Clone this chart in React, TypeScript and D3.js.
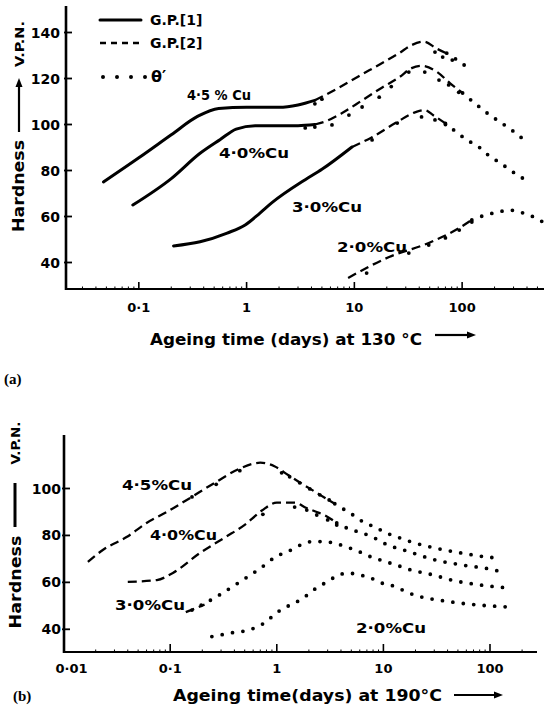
import React from 'react';
import * as d3 from 'd3';

type P = [number, number];

// ---------- (a) ageing at 130 °C ----------
const a45Solid: P[] = [[0.047, 75], [0.1, 85.5], [0.2, 95.5], [0.35, 103.5], [0.55, 107], [1, 107.5], [2, 107.5], [3, 108.5], [4.3, 110.5]];
const a45Dashed: P[] = [[4.3, 110.5], [7.2, 116], [11, 121], [17, 126], [26, 131], [34, 134.5], [44, 136], [58, 133], [75, 130.5]];
const a45Dotted: P[] = [[72, 131], [90, 128], [107, 125.5]];
const a45Marks: P[] = [[4.3, 109], [5, 111], [56, 131.5], [66, 129.3], [81, 128]];

const a40Solid: P[] = [[0.088, 65], [0.2, 76.5], [0.37, 87.5], [0.57, 93.5], [0.8, 98], [1.2, 99.5], [2, 99.5], [3, 99.5], [4.3, 100]];
const a40Dashed: P[] = [[4.3, 100], [5.5, 101.5], [7.7, 105], [11.8, 110.5], [18, 116], [26, 120.5], [34, 124.5], [42, 125.5], [58, 123], [77, 118], [101, 113.7]];
const a40Dotted: P[] = [[101, 113.7], [137, 108.5], [182, 104], [226, 101], [290, 97.5], [361, 94]];
const a40Marks: P[] = [[3.5, 98.5], [4.3, 98.9], [6.2, 99.8], [8.9, 104.1], [11.8, 107.6], [17, 111.9], [22, 116.5], [32, 122.8], [45, 122.8], [61, 119.3], [75, 117.2], [93, 114]];

const a30Solid: P[] = [[0.21, 47.2], [0.37, 49], [0.66, 52.8], [0.97, 56.3], [1.33, 61.5], [1.72, 66], [3.5, 76], [5, 80.5], [9.5, 90.2]];
const a30Dashed: P[] = [[9.5, 90.2], [14.6, 94.5], [24, 100.6], [37, 105.4], [45, 106.3], [54, 104], [70, 100.5]];
const a30Dotted: P[] = [[70, 100.5], [111, 93.3], [147, 89.8], [182, 86], [226, 83.3], [278, 80.2], [385, 76]];
const a30Marks: P[] = [[14.6, 93.3], [25, 100.6], [42, 103.3], [56, 102], [70, 100]];

const a20Dashed: P[] = [[8.75, 33.3], [21, 42.4], [49, 48.5], [94, 55], [123, 58.5]];
const a20Dotted: P[] = [[123, 58.5], [164, 60.6], [220, 62], [271, 62.8], [338, 62], [420, 60.6], [520, 58.5], [620, 56.3]];
const a20Marks: P[] = [[13, 35.4], [32, 44.1], [49, 47.6], [70, 50.7], [94, 54.1], [123, 57.6]];

const aYTicks = [40, 60, 80, 100, 120, 140];
const aXTicks = [0.1, 1, 10, 100];
const aXTickLabels = ['0·1', '1', '10', '100'];

// ---------- (b) ageing at 190 °C ----------
const b45Dashed: P[] = [[0.0169, 68.7], [0.0235, 73.9], [0.039, 79.3], [0.06, 85.3], [0.093, 90], [0.143, 95.1], [0.27, 102.8], [0.45, 108.5], [0.7, 111], [0.95, 109.5], [1.3, 105.5], [1.8, 101.5], [2.5, 97.5], [3.5, 93.5]];
const b45Dotted: P[] = [[3.5, 93.5], [4.06, 91.7], [5.2, 88.7], [6.5, 85.7], [8.3, 83.6], [10.7, 81], [13.6, 79.3], [18.4, 77.2], [30, 74.7], [54, 72.5], [93, 70.8], [118, 70.4]];
const b45Marks: P[] = [[0.16, 96.4], [0.27, 101.8], [0.45, 107.6], [1.11, 106.7], [1.32, 105], [1.64, 102.4], [2.04, 99.8], [2.53, 97.3], [3.1, 95.1]];

const b40Dashed: P[] = [[0.04, 60.2], [0.075, 61], [0.106, 64], [0.19, 72.5], [0.33, 79.3], [0.5, 84.5], [0.72, 90.5], [1.0, 94], [1.47, 94], [1.9, 91.7], [2.37, 90], [3.0, 87.9], [3.65, 85.3]];
const b40Dotted: P[] = [[3.65, 85.3], [4.8, 82.7], [6.4, 81], [8.6, 78.5], [11, 75.9], [15.5, 73.8], [31, 69.5], [55, 67.4], [99, 65.7], [131, 64.4]];
const b40Marks: P[] = [[0.74, 89], [1.47, 92.1], [1.91, 90.8], [2.37, 88.7], [3.0, 86.6], [3.65, 84.4]];

const b30Dashed: P[] = [[0.14, 47.3], [0.21, 50.5]];
const b30Dotted: P[] = [[0.16, 48.2], [0.27, 53.8], [0.45, 60.2], [0.82, 68.3], [0.96, 70.8], [1.24, 72.9], [1.54, 75.1], [1.83, 76.8], [2.2, 77.4], [2.75, 77.4], [3.4, 76.8], [4.5, 75.1], [5.7, 73.4], [7.3, 71.2], [9.4, 69.5], [13.2, 67.4], [16.9, 65.7], [28.4, 63.3], [47.5, 60.6], [81, 58.9], [149, 57.6]];

const b20Dotted: P[] = [[0.246, 36.9], [0.305, 37.7], [0.387, 38.6], [0.5, 39.3], [0.65, 41], [0.81, 43.5], [0.96, 46.5], [1.24, 49.6], [1.54, 51.7], [1.83, 53.8], [2.22, 56.8], [2.64, 58.9], [3.14, 61], [3.8, 63.1], [4.7, 64], [5.9, 63.1], [7.3, 62.3], [9, 60.2], [13.3, 58], [16.5, 55.9], [44.5, 51.6], [80, 50.3], [153, 49.5]];

const bYTicks = [40, 60, 80, 100];
const bXTicks = [0.01, 0.1, 1, 10, 100];
const bXTickLabels = ['0·01', '0·1', '1', '10', '100'];

const FONT = "'DejaVu Sans', 'Liberation Sans', sans-serif";

// scales
const xA = d3.scaleLog().domain([0.0211, 575]).range([66, 544]);
const yA = d3.scaleLinear().domain([40, 140]).range([262.5, 32.5]);
const xB = d3.scaleLog().domain([0.01, 100]).range([63.6, 490]);
const yB = d3.scaleLinear().domain([40, 100]).range([629.3, 488.5]);

type Kind = 'solid' | 'dashed' | 'dotted';
const styles: Record<Kind, React.SVGProps<SVGPathElement>> = {
  solid: { stroke: '#000', strokeWidth: 3, fill: 'none', strokeLinecap: 'round' },
  dashed: { stroke: '#000', strokeWidth: 2.3, fill: 'none', strokeDasharray: '9 5' },
  dotted: { stroke: '#000', strokeWidth: 3.8, fill: 'none', strokeDasharray: '0 10.5', strokeLinecap: 'round' },
};

function Curve({ pts, kind, x, y }: { pts: P[]; kind: Kind; x: any; y: any }) {
  const line = d3.line<P>().x(d => x(d[0])).y(d => y(d[1])).curve(d3.curveMonotoneX);
  return <path d={line(pts) || ''} {...styles[kind]} />;
}

function Marks({ pts, x, y }: { pts: P[]; x: any; y: any }) {
  return (
    <g>
      {pts.map((d, i) => (
        <circle key={i} cx={x(d[0])} cy={y(d[1])} r={1.9} fill="#000" />
      ))}
    </g>
  );
}

function minorTicks(lo: number, hi: number): number[] {
  const out: number[] = [];
  for (let e = -3; e <= 3; e++) {
    for (let m = 2; m <= 9; m++) {
      const v = m * Math.pow(10, e);
      if (v > lo && v < hi) out.push(v);
    }
  }
  return out;
}

function Arrow({ x1, y1, x2, y2 }: { x1: number; y1: number; x2: number; y2: number }) {
  const ang = Math.atan2(y2 - y1, x2 - x1);
  const L = 9, W = 3.5;
  const bx = x2 - L * Math.cos(ang), by = y2 - L * Math.sin(ang);
  const px = -Math.sin(ang) * W, py = Math.cos(ang) * W;
  return (
    <g>
      <line x1={x1} y1={y1} x2={bx} y2={by} stroke="#000" strokeWidth={2.2} />
      <polygon points={`${x2},${y2} ${bx + px},${by + py} ${bx - px},${by - py}`} fill="#000" />
    </g>
  );
}

export default function App() {
  const txt = { fontFamily: FONT, fontWeight: 700 as const, fill: '#000' };
  return (
    <svg width={544} height={712} style={{ position: 'absolute', left: 0, top: 0, background: '#fff' }}>
      <defs>
        <clipPath id="clipA"><rect x={66} y={0} width={478} height={289} /></clipPath>
        <clipPath id="clipB"><rect x={64} y={420} width={473} height={232} /></clipPath>
      </defs>

      {/* ================= (a) ================= */}
      {/* axes */}
      <line x1={66} y1={6} x2={66} y2={290} stroke="#000" strokeWidth={2.6} />
      <line x1={65} y1={289} x2={544} y2={289} stroke="#000" strokeWidth={2.2} />
      {aYTicks.map(v => (
        <g key={v}>
          <line x1={64} x2={72} y1={yA(v)} y2={yA(v)} stroke="#000" strokeWidth={1.8} />
          <text x={60} y={yA(v) + 5} textAnchor="end" fontSize={14} {...txt}>{v}</text>
        </g>
      ))}
      {aXTicks.map((v, i) => (
        <g key={v}>
          <line x1={xA(v)} x2={xA(v)} y1={289} y2={282} stroke="#000" strokeWidth={1.6} />
          <text x={xA(v)} y={312} textAnchor="middle" fontSize={13} {...txt}>{aXTickLabels[i]}</text>
        </g>
      ))}
      {minorTicks(0.0211, 575).map(v => (
        <line key={v} x1={xA(v)} x2={xA(v)} y1={289} y2={286.5} stroke="#000" strokeWidth={1} />
      ))}

      {/* curves */}
      <g clipPath="url(#clipA)">
        <Curve pts={a45Solid} kind="solid" x={xA} y={yA} />
        <Curve pts={a45Dashed} kind="dashed" x={xA} y={yA} />
        <Curve pts={a45Dotted} kind="dotted" x={xA} y={yA} />
        <Marks pts={a45Marks} x={xA} y={yA} />
        <Curve pts={a40Solid} kind="solid" x={xA} y={yA} />
        <Curve pts={a40Dashed} kind="dashed" x={xA} y={yA} />
        <Curve pts={a40Dotted} kind="dotted" x={xA} y={yA} />
        <Marks pts={a40Marks} x={xA} y={yA} />
        <Curve pts={a30Solid} kind="solid" x={xA} y={yA} />
        <Curve pts={a30Dashed} kind="dashed" x={xA} y={yA} />
        <Curve pts={a30Dotted} kind="dotted" x={xA} y={yA} />
        <Marks pts={a30Marks} x={xA} y={yA} />
        <Curve pts={a20Dashed} kind="dashed" x={xA} y={yA} />
        <Curve pts={a20Dotted} kind="dotted" x={xA} y={yA} />
        <Marks pts={a20Marks} x={xA} y={yA} />
      </g>

      {/* curve labels */}
      <text x={187} y={100} fontSize={14} {...txt} textLength={64} lengthAdjust="spacingAndGlyphs">4·5 % Cu</text>
      <text x={219} y={158} fontSize={14} {...txt} textLength={70} lengthAdjust="spacingAndGlyphs">4·0%Cu</text>
      <text x={292} y={212} fontSize={14} {...txt} textLength={70} lengthAdjust="spacingAndGlyphs">3·0%Cu</text>
      <text x={337} y={252} fontSize={14} {...txt} textLength={70} lengthAdjust="spacingAndGlyphs">2·0%Cu</text>

      {/* legend */}
      <line x1={100} x2={141} y1={20} y2={20} {...(styles.solid as any)} />
      <text x={150} y={25} fontSize={14} {...txt}>G.P.[1]</text>
      <line x1={100} x2={144} y1={43} y2={43} {...(styles.dashed as any)} strokeDasharray="6 5" />
      <text x={150} y={48} fontSize={14} {...txt}>G.P.[2]</text>
      <line x1={103} x2={146} y1={77} y2={77} stroke="#000" strokeWidth={4} strokeLinecap="round" strokeDasharray="0 14" />
      <text x={151} y={82} fontSize={16} {...txt}>θ′</text>

      {/* axis titles */}
      <text x={150} y={345} fontSize={15} {...txt} textLength={272} lengthAdjust="spacingAndGlyphs">Ageing time (days) at 130 °C</text>
      <Arrow x1={435} y1={335} x2={476} y2={335} />
      <text transform="translate(24,186) rotate(-90)" textAnchor="middle" fontSize={15} {...txt} textLength={92} lengthAdjust="spacingAndGlyphs">Hardness</text>
      <Arrow x1={19} y1={132} x2={19} y2={78} />
      <text transform="translate(24,44) rotate(-90)" textAnchor="middle" fontSize={13} {...txt} textLength={46} lengthAdjust="spacingAndGlyphs">V.P.N.</text>

      <text x={4} y={384} fontSize={15} fontFamily="'Liberation Serif', serif" fontWeight={700}>(a)</text>

      {/* ================= (b) ================= */}
      <line x1={64} y1={435} x2={64} y2={653} stroke="#000" strokeWidth={2.6} />
      <line x1={63} y1={652} x2={537} y2={652} stroke="#000" strokeWidth={2.2} />
      {bYTicks.map(v => (
        <g key={v}>
          <line x1={62} x2={70} y1={yB(v)} y2={yB(v)} stroke="#000" strokeWidth={1.8} />
          <text x={61} y={yB(v) + 5} textAnchor="end" fontSize={14} {...txt}>{v}</text>
        </g>
      ))}
      {bXTicks.map((v, i) => (
        <g key={v}>
          {i > 0 && <line x1={xB(v)} x2={xB(v)} y1={652} y2={644} stroke="#000" strokeWidth={1.6} />}
          <text x={i === 0 ? xB(v) + 8 : xB(v)} y={673} textAnchor="middle" fontSize={13} {...txt}>{bXTickLabels[i]}</text>
        </g>
      ))}
      {minorTicks(0.01, 270).map(v => (
        <line key={v} x1={xB(v)} x2={xB(v)} y1={652} y2={649.5} stroke="#000" strokeWidth={1} />
      ))}

      <g clipPath="url(#clipB)">
        <Curve pts={b45Dashed} kind="dashed" x={xB} y={yB} />
        <Curve pts={b45Dotted} kind="dotted" x={xB} y={yB} />
        <Marks pts={b45Marks} x={xB} y={yB} />
        <Curve pts={b40Dashed} kind="dashed" x={xB} y={yB} />
        <Curve pts={b40Dotted} kind="dotted" x={xB} y={yB} />
        <Marks pts={b40Marks} x={xB} y={yB} />
        <Curve pts={b30Dashed} kind="dashed" x={xB} y={yB} />
        <Curve pts={b30Dotted} kind="dotted" x={xB} y={yB} />
        <Curve pts={b20Dotted} kind="dotted" x={xB} y={yB} />
      </g>

      <text x={122} y={490} fontSize={14} {...txt} textLength={70} lengthAdjust="spacingAndGlyphs">4·5%Cu</text>
      <text x={150} y={540} fontSize={14} {...txt} textLength={67} lengthAdjust="spacingAndGlyphs">4·0%Cu</text>
      <text x={115} y={610} fontSize={14} {...txt} textLength={70} lengthAdjust="spacingAndGlyphs">3·0%Cu</text>
      <text x={356} y={633} fontSize={14} {...txt} textLength={70} lengthAdjust="spacingAndGlyphs">2·0%Cu</text>

      <text x={173} y={701} fontSize={15} {...txt} textLength={269} lengthAdjust="spacingAndGlyphs">Ageing time(days) at 190°C</text>
      <Arrow x1={454} y1={695} x2={503} y2={695} />
      <text transform="translate(21,582) rotate(-90)" textAnchor="middle" fontSize={15} {...txt} textLength={93} lengthAdjust="spacingAndGlyphs">Hardness</text>
      <line x1={15} x2={15} y1={483} y2={527} stroke="#000" strokeWidth={3} />
      <text transform="translate(20,443) rotate(-90)" textAnchor="middle" fontSize={13} {...txt} textLength={43} lengthAdjust="spacingAndGlyphs">V.P.N.</text>

      <text x={13} y={701} fontSize={15} fontFamily="'Liberation Serif', serif" fontWeight={700}>(b)</text>
    </svg>
  );
}
